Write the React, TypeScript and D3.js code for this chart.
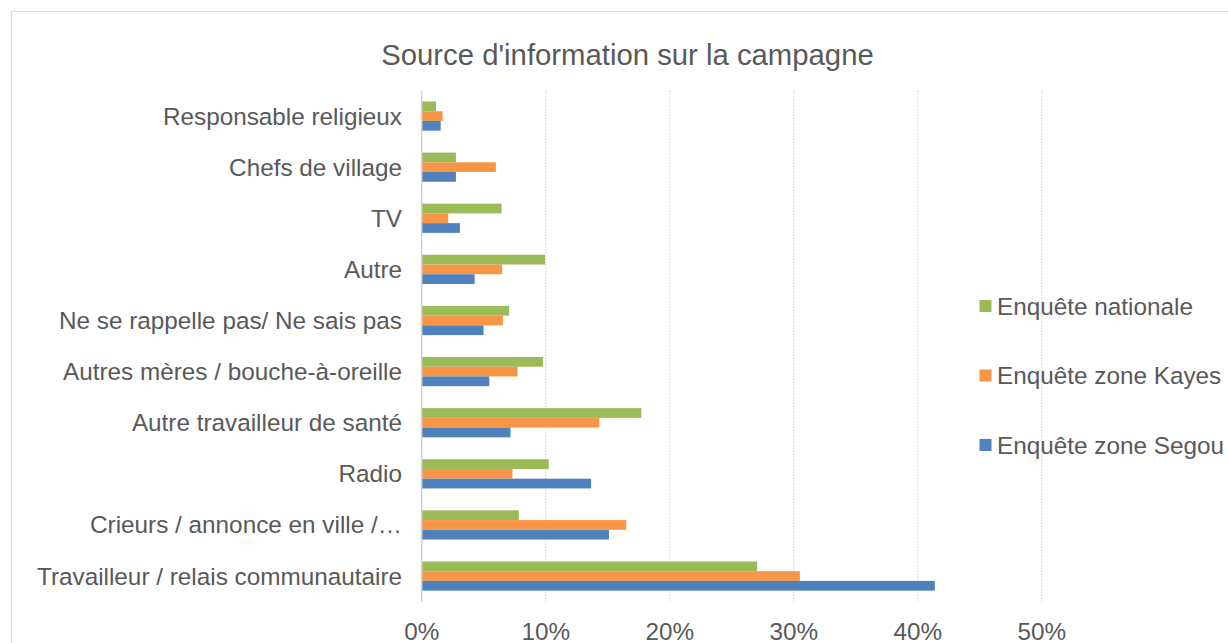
import React from "react";
import * as d3 from "d3";

const categories = [
  "Responsable religieux",
  "Chefs de village",
  "TV",
  "Autre",
  "Ne se rappelle pas/ Ne sais pas",
  "Autres mères / bouche-à-oreille",
  "Autre travailleur de santé",
  "Radio",
  "Crieurs / annonce en ville /…",
  "Travailleur / relais communautaire",
];

const seriesNames = ["Enquête nationale", "Enquête zone Kayes", "Enquête zone Segou"];
const seriesColors = ["#9bbb59", "#f79646", "#4f81bd"];

const nationale = [1.15, 2.76, 6.44, 9.95, 7.05, 9.79, 17.71, 10.25, 7.83, 27.05];
const kayes = [1.69, 5.98, 2.14, 6.49, 6.55, 7.73, 14.33, 7.32, 16.5, 30.5];
const segou = [1.53, 2.76, 3.08, 4.27, 4.99, 5.45, 7.16, 13.66, 15.1, 41.38];

const seriesValues = [nationale, kayes, segou];
const xTicks = [0, 10, 20, 30, 40, 50];

const W = 1228;
const H = 643;
const FONT = "'Liberation Sans', Arial, sans-serif";
const TEXT = "#595959";

export default function App() {
  const x = d3.scaleLinear().domain([0, 50]).range([421.7, 1041.7]);
  const y = d3
    .scaleBand<string>()
    .domain(categories)
    .range([90.5, 601.6])
    .paddingInner(0.4286)
    .paddingOuter(0.2143);
  const inner = d3
    .scaleBand<string>()
    .domain(seriesNames)
    .range([0, y.bandwidth()]);

  return (
    <svg
      width={W}
      height={H}
      style={{ position: "absolute", left: 0, top: 0, display: "block", background: "#fff" }}
    >
      <rect x={11.5} y={11.5} width={1240} height={700} fill="#fff" stroke="#d9d9d9" strokeWidth={1} />
      <text
        x={627.5}
        y={55}
        dy="0.35em"
        textAnchor="middle"
        fontFamily={FONT}
        fontSize={29.3}
        fill={TEXT}
      >
        Source d'information sur la campagne
      </text>

      {xTicks.slice(1).map((t) => (
        <line
          key={"g" + t}
          x1={x(t)}
          x2={x(t)}
          y1={90.5}
          y2={601.6}
          stroke="#d9d9d9"
          strokeWidth={1.2}
          strokeDasharray="1.5,1.5"
        />
      ))}

      {categories.map((c, i) =>
        seriesNames.map((s, k) => (
          <rect
            key={c + s}
            x={x(0)}
            y={(y(c) as number) + (inner(s) as number)}
            width={x(seriesValues[k][i]) - x(0)}
            height={inner.bandwidth()}
            fill={seriesColors[k]}
          />
        ))
      )}

      <line x1={x(0)} x2={x(0)} y1={90.5} y2={601.6} stroke="#d0d0d0" strokeWidth={1.5} />

      {categories.map((c) => (
        <text
          key={"l" + c}
          x={402}
          y={(y(c) as number) + y.bandwidth() / 2}
          dy="0.35em"
          textAnchor="end"
          fontFamily={FONT}
          fontSize={24.3}
          fill={TEXT}
        >
          {c}
        </text>
      ))}

      {xTicks.map((t) => (
        <text
          key={"t" + t}
          x={x(t)}
          y={631}
          dy="0.35em"
          textAnchor="middle"
          fontFamily={FONT}
          fontSize={24.3}
          fill={TEXT}
        >
          {t + "%"}
        </text>
      ))}

      {seriesNames.map((s, k) => {
        const cy = 306 + k * 69.5;
        return (
          <g key={"lg" + s}>
            <rect x={979.5} y={cy - 6} width={12} height={12} fill={seriesColors[k]} />
            <text x={997} y={cy} dy="0.35em" fontFamily={FONT} fontSize={24.3} fill={TEXT}>
              {s}
            </text>
          </g>
        );
      })}
    </svg>
  );
}
